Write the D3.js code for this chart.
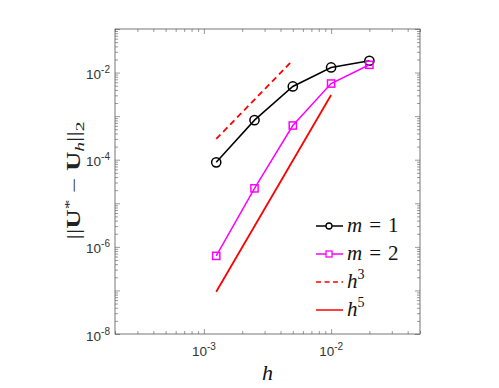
<!DOCTYPE html>
<html>
<head>
<meta charset="utf-8">
<script src="https://cdn.jsdelivr.net/npm/d3@7"></script>
<style>
  body { margin: 0; background: #fff; }
  svg { display: block; }
</style>
</head>
<body>
<div id="container"></div>
<script>
/* CONSTANTS AND GLOBALS */
const width = 499;
const height = 388;
const margin = { top: 29, bottom: 54, left: 115, right: 79 };

/* DATA */
const hValues = [1.25e-3, 2.5e-3, 5e-3, 1e-2, 2e-2];
const errM1 = [8.7e-5, 8.1e-4, 4.8e-3, 1.31e-2, 1.87e-2];
const errM2 = [6.2e-7, 2.2e-5, 6.1e-4, 5.6e-3, 1.51e-2];
const h3Range = [1.25e-3, 5e-3];
const h3Values = [3.0e-4, 1.92e-2];
const h5Range = [1.25e-3, 1e-2];
const h5Values = [9.3e-8, 3.05e-3];
const xMajor = [1e-3, 1e-2];
const yLabeled = [1e-8, 1e-6, 1e-4, 1e-2];
const legendLabels = [["m", " = 1"], ["m", " = 2"], ["h", "3"], ["h", "5"]];

/* SCALES */
const xScale = d3.scaleLog()
  .domain([2e-4, 5e-2])
  .range([margin.left, width - margin.right]);

const yScale = d3.scaleLog()
  .domain([1e-8, 1e-1])
  .range([height - margin.bottom, margin.top]);

const svg = d3.select("#container")
  .append("svg")
  .attr("width", width)
  .attr("height", height);

const axisColor = "#555";
const x0 = margin.left, x1 = width - margin.right;
const y0 = height - margin.bottom, y1 = margin.top;

// minor ticks for log axes
function minorTicks(domain) {
  const out = [];
  const lo = Math.floor(Math.log10(domain[0]));
  const hi = Math.ceil(Math.log10(domain[1]));
  for (let e = lo; e < hi; e++) {
    for (let k = 2; k <= 9; k++) {
      const v = k * Math.pow(10, e);
      if (v >= domain[0] * 0.999 && v <= domain[1] * 1.001) out.push(v);
    }
  }
  return out;
}
const xMinor = minorTicks(xScale.domain());
const yMinor = minorTicks(yScale.domain());
const yMajor = d3.range(-8, 0).map(e => Math.pow(10, e));

/* AXES (ticks inward on all four sides) */
function addAxis(axisFn, scale, values, size, transform) {
  const g = svg.append("g")
    .attr("transform", transform)
    .call(axisFn(scale).tickValues(values).tickSizeInner(-size).tickSizeOuter(0).tickFormat(""));
  g.select(".domain").remove();
  g.selectAll("line").attr("stroke", axisColor).attr("stroke-width", 0.6);
}
addAxis(d3.axisBottom, xScale, xMajor, 5, `translate(0,${y0})`);
addAxis(d3.axisBottom, xScale, xMinor, 3, `translate(0,${y0})`);
addAxis(d3.axisTop, xScale, xMajor, 5, `translate(0,${y1})`);
addAxis(d3.axisTop, xScale, xMinor, 3, `translate(0,${y1})`);
addAxis(d3.axisLeft, yScale, yMajor, 5, `translate(${x0},0)`);
addAxis(d3.axisLeft, yScale, yMinor, 3, `translate(${x0},0)`);
addAxis(d3.axisRight, yScale, yMajor, 5, `translate(${x1},0)`);
addAxis(d3.axisRight, yScale, yMinor, 3, `translate(${x1},0)`);

svg.append("rect")
  .attr("x", x0).attr("y", y1)
  .attr("width", x1 - x0).attr("height", y0 - y1)
  .attr("fill", "none")
  .attr("stroke", axisColor)
  .attr("stroke-width", 0.8);

/* TICK LABELS */
const tickFont = "'Liberation Sans', Arial, sans-serif";
function powerLabel(sel, v) {
  const e = Math.round(Math.log10(v));
  sel.append("tspan").text("10");
  sel.append("tspan").attr("dy", -6).attr("font-size", 10).text(e);
}
xMajor.forEach(v => {
  const t = svg.append("text")
    .attr("x", xScale(v)).attr("y", y0 + 22)
    .attr("text-anchor", "middle")
    .attr("font-family", tickFont).attr("font-size", 13.5)
    .attr("fill", "#333");
  powerLabel(t, v);
});
yLabeled.forEach(v => {
  const t = svg.append("text")
    .attr("x", x0 - 5).attr("y", yScale(v) + 6.5)
    .attr("text-anchor", "end")
    .attr("font-family", tickFont).attr("font-size", 13.5)
    .attr("fill", "#333");
  powerLabel(t, v);
});

/* AXIS TITLES */
const serif = "'Liberation Serif', 'DejaVu Serif', serif";
svg.append("text")
  .attr("x", (x0 + x1) / 2).attr("y", 380)
  .attr("text-anchor", "middle")
  .attr("font-family", serif).attr("font-style", "italic").attr("font-size", 22)
  .attr("fill", "#111")
  .text("h");

const yl = svg.append("text")
  .attr("transform", `translate(80,${(y0 + y1) / 2 - 1}) rotate(-90)`)
  .attr("text-anchor", "middle")
  .attr("font-family", serif).attr("font-size", 18)
  .attr("textLength", 118).attr("lengthAdjust", "spacingAndGlyphs")
  .attr("fill", "#222");
yl.append("tspan").text("||");
yl.append("tspan").attr("font-weight", "bold").text("U");
yl.append("tspan").attr("dy", -7).attr("font-size", 13).text("*");
yl.append("tspan").attr("dy", 7).text(" \u2212 ");
yl.append("tspan").attr("font-weight", "bold").text("U");
yl.append("tspan").attr("dy", 4).attr("font-size", 13).attr("font-style", "italic").text("h");
yl.append("tspan").attr("dy", -4).text("||");
yl.append("tspan").attr("dy", 4).attr("font-size", 13).text("2");

/* LINES */
const line = d3.line()
  .x(d => xScale(d[0]))
  .y(d => yScale(d[1]));

svg.append("path")
  .datum(h3Range.map((h, i) => [h, h3Values[i]]))
  .attr("d", line).attr("fill", "none")
  .attr("stroke", "#ff0000").attr("stroke-width", 1.8)
  .attr("stroke-dasharray", "6,4");

svg.append("path")
  .datum(h5Range.map((h, i) => [h, h5Values[i]]))
  .attr("d", line).attr("fill", "none")
  .attr("stroke", "#ff0000").attr("stroke-width", 1.8);

const m1 = hValues.map((h, i) => [h, errM1[i]]);
const m2 = hValues.map((h, i) => [h, errM2[i]]);

svg.append("path").datum(m1).attr("d", line)
  .attr("fill", "none").attr("stroke", "#000").attr("stroke-width", 1.5);
svg.selectAll(".dot1").data(m1).join("circle")
  .attr("class", "dot1")
  .attr("cx", d => xScale(d[0])).attr("cy", d => yScale(d[1]))
  .attr("r", 4.6).attr("fill", "none").attr("stroke", "#000").attr("stroke-width", 1.5);

svg.append("path").datum(m2).attr("d", line)
  .attr("fill", "none").attr("stroke", "#ff00ff").attr("stroke-width", 1.5);
svg.selectAll(".sq2").data(m2).join("rect")
  .attr("class", "sq2")
  .attr("x", d => xScale(d[0]) - 3.6).attr("y", d => yScale(d[1]) - 3.6)
  .attr("width", 7.2).attr("height", 7.2)
  .attr("fill", "none").attr("stroke", "#ff00ff").attr("stroke-width", 1.5);

/* LEGEND */
const legX = 316, legY = 226, legStep = 28;
const legStyles = [
  { color: "#000", dash: null, marker: "circle" },
  { color: "#ff00ff", dash: null, marker: "square" },
  { color: "#ff0000", dash: "5,3.5", marker: null },
  { color: "#ff0000", dash: null, marker: null }
];
legStyles.forEach((s, i) => {
  const y = legY + i * legStep;
  const g = svg.append("g");
  g.append("line")
    .attr("x1", legX).attr("x2", legX + 27).attr("y1", y).attr("y2", y)
    .attr("stroke", s.color).attr("stroke-width", 1.5)
    .attr("stroke-dasharray", s.dash);
  if (s.marker === "circle") {
    g.append("circle").attr("cx", legX + 13).attr("cy", y).attr("r", 3)
      .attr("fill", "#fff").attr("stroke", s.color).attr("stroke-width", 1.3);
  } else if (s.marker === "square") {
    g.append("rect").attr("x", legX + 10).attr("y", y - 3).attr("width", 6).attr("height", 6)
      .attr("fill", "#fff").attr("stroke", s.color).attr("stroke-width", 1.3);
  }
  const t = g.append("text")
    .attr("x", legX + 31).attr("y", y + 6)
    .attr("font-family", serif).attr("font-size", 21).attr("fill", "#111");
  t.append("tspan").attr("font-style", "italic").text(legendLabels[i][0]);
  if (i < 2) {
    t.append("tspan").text(legendLabels[i][1].replace(/ /g, "\u200a "));
  } else {
    t.append("tspan").attr("dy", -9).attr("font-size", 14).text(legendLabels[i][1]);
  }
});
</script>
</body>
</html>
